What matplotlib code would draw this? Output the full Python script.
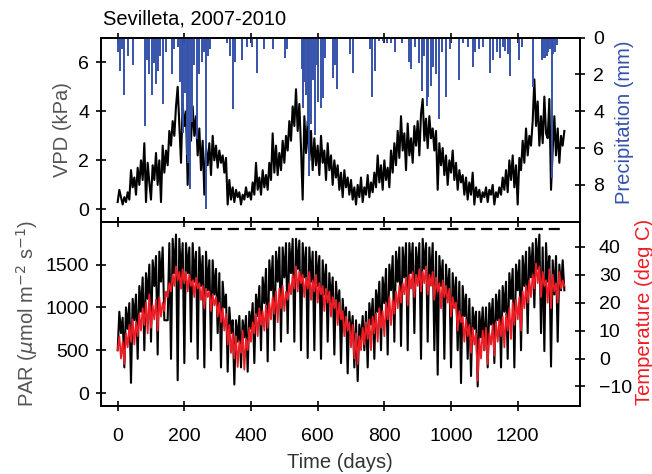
import numpy as np
import matplotlib
matplotlib.use("Agg")
import matplotlib.pyplot as plt

plt.rcParams['font.family'] = ['Liberation Sans', 'DejaVu Sans']

# day of record, every 5 days
days = np.arange(0, 1341, 5)

# VPD (kPa)
vpd = [0.3, 0.8, 0.5, 0.2, 0.5, 0.3, 0.7, 0.4, 1.6, 0.9,
       1.3, 0.6, 1.7, 1.0, 2.0, 1.2, 2.7, 0.3, 1.9, 1.1,
       0.4, 1.8, 1.2, 2.3, 1.0, 2.0, 0.3, 2.6, 1.5, 2.4,
       1.8, 3.2, 2.6, 3.6, 3.0, 4.2, 5.0, 3.5, 1.9, 4.3,
       3.4, 4.0, 1.0, 3.6, 2.8, 4.2, 3.0, 3.8, 2.2, 3.3,
       1.6, 2.8, 0.6, 2.5, 1.8, 2.7, 1.4, 3.0, 2.0, 2.6,
       1.7, 2.4, 1.9, 2.2, 1.5, 2.1, 0.2, 1.2, 0.4, 0.9,
       0.3, 0.8, 0.5, 0.7, 0.2, 0.6, 0.4, 0.9, 0.5, 0.7,
       0.4, 1.1, 0.6, 1.9, 0.8, 1.3, 0.6, 1.6, 0.9, 1.4,
       0.8, 1.9, 1.2, 3.1, 1.5, 2.6, 1.4, 2.3, 1.6, 2.8,
       1.9, 3.0, 2.4, 3.6, 2.8, 4.2, 3.4, 4.9, 3.2, 4.3,
       2.5, 0.4, 3.8, 2.3, 3.6, 2.0, 3.2, 1.6, 2.9, 1.8,
       2.6, 1.4, 3.0, 1.9, 2.4, 1.2, 2.7, 1.6, 2.2, 1.0,
       2.0, 1.3, 1.8, 0.8, 1.5, 0.5, 1.6, 0.9, 1.3, 0.6,
       1.2, 0.4, 0.9, 0.2, 1.0, 0.5, 1.3, 0.3, 0.9, 0.6,
       1.4, 0.5, 1.1, 0.7, 1.5, 0.9, 2.2, 1.1, 1.8, 0.8,
       2.0, 1.2, 1.7, 0.9, 2.4, 1.5, 2.7, 1.8, 3.2, 2.1,
       3.8, 2.4, 3.1, 1.6, 3.5, 2.2, 2.9, 1.9, 3.4, 2.6,
       3.6, 2.2, 3.9, 4.5, 2.8, 3.7, 2.5, 3.8, 2.9, 3.3,
       2.4, 3.2, 0.8, 2.7, 1.8, 2.5, 1.4, 2.2, 1.0, 2.0,
       1.5, 2.4, 1.2, 1.9, 0.8, 1.6, 1.1, 1.4, 0.6, 1.3,
       0.4, 1.1, 0.6, 1.5, 0.2, 0.9, 0.5, 0.8, 0.3, 0.7,
       0.5, 0.9, 0.3, 0.8, 0.6, 1.0, 0.2, 0.7, 0.5, 0.9,
       0.6, 1.3, 0.8, 1.6, 0.7, 2.0, 1.2, 2.2, 0.9, 1.8,
       0.2, 2.1, 1.6, 2.8, 1.9, 3.3, 2.2, 3.0, 2.6, 3.6,
       5.3, 3.4, 4.4, 2.6, 3.8, 2.7, 4.6, 3.1, 2.9, 4.5,
       0.8, 2.4, 3.8, 2.2, 3.3, 1.9, 3.0, 2.6, 3.2]

# PAR (umol m-2 s-1), bottom panel black
par = [500, 950, 700, 880, 300, 1000, 750, 1050, 120, 1100,
       850, 1150, 400, 1250, 950, 1350, 500, 1400, 1100, 1500,
       600, 1550, 1250, 1600, 450, 1650, 1300, 1700, 850, 850,
       850, 1750, 400, 1800, 1400, 1850, 150, 1800, 1350, 1750,
       350, 1750, 1400, 1700, 600, 1750, 1300, 1650, 400, 1700,
       1250, 1600, 300, 1650, 1200, 1550, 500, 1550, 1150, 1450,
       700, 1400, 300, 1300, 1000, 1150, 250, 1000, 700, 850,
       100, 850, 600, 900, 300, 850, 650, 900, 250, 950,
       750, 1050, 350, 1150, 900, 1250, 500, 1350, 1050, 1450,
       370, 1550, 1200, 1600, 500, 1650, 1300, 1700, 600, 1700,
       1350, 1750, 700, 1750, 1400, 1800, 600, 1800, 1450, 1780,
       500, 1750, 1350, 1700, 410, 1700, 1300, 1650, 500, 1650,
       1250, 1600, 400, 1550, 1150, 1500, 600, 1400, 1050, 1350,
       450, 1300, 950, 1200, 350, 1100, 800, 1000, 230, 950,
       650, 900, 300, 850, 140, 800, 600, 900, 500, 950,
       300, 1050, 800, 1100, 400, 1200, 950, 1300, 500, 1350,
       1050, 1450, 450, 1500, 1200, 1600, 600, 1650, 1300, 1700,
       550, 1700, 1350, 1750, 500, 1750, 1400, 1750, 700, 1700,
       1350, 1750, 400, 1800, 1450, 1750, 600, 1700, 1300, 1750,
       500, 1650, 215, 1600, 1250, 1550, 400, 1500, 1100, 1450,
       300, 1400, 1000, 1350, 500, 1300, 117, 1250, 900, 1150,
       400, 1100, 200, 1000, 750, 950, 78, 950, 650, 1000,
       500, 1000, 300, 1050, 800, 1100, 350, 1150, 850, 1200,
       300, 1250, 950, 1300, 400, 1400, 1100, 1450, 300, 1500,
       1200, 1550, 500, 1600, 1250, 1650, 700, 1700, 1350, 1750,
       1000, 1800, 1450, 1850, 700, 1700, 490, 1750, 1300, 1600,
       310, 1550, 1150, 1600, 600, 1500, 1200, 1550, 1200]

# air temperature (deg C), bottom panel red
temp = [3, 8, 0, 6, -2, 9, 4, 12, 6, 14,
        5, 13, 8, 16, 10, 18, 12, 20, 9, 23,
        11, 19, 14, 21, 10, 22, 15, 20, 17, 24,
        22, 27, 24, 30, 26, 33, 28, 31, 25, 32,
        27, 31, 24, 30, 26, 28, 22, 29, 25, 27,
        21, 26, 18, 25, 22, 24, 17, 23, 19, 22,
        15, 20, 13, 18, 10, 16, 5, 12, 2, 9,
        0, 8, -3, 6, 2, 10, -4, 7, 3, 11,
        6, 13, 9, 16, 8, 18, 12, 17, 10, 19,
        11, 20, 14, 22, 16, 24, 13, 25, 18, 26,
        17, 24, 21, 27, 23, 30, 25, 33, 24, 31,
        27, 30, 22, 29, 25, 31, 21, 28, 24, 30,
        20, 27, 23, 26, 17, 25, 20, 24, 15, 22,
        18, 21, 12, 20, 14, 17, 8, 15, 10, 13,
        4, 12, 0, 9, -2, 8, 3, 11, 5, 13,
        7, 14, 3, 15, 9, 16, 6, 18, 11, 17,
        8, 20, 14, 22, 12, 21, 16, 24, 18, 26,
        20, 27, 23, 29, 19, 30, 25, 31, 22, 30,
        26, 32, 24, 31, 27, 33, 23, 30, 26, 31,
        21, 29, 24, 27, 18, 28, 22, 26, 20, 25,
        15, 22, 18, 20, 10, 17, 13, 15, 6, 14,
        8, 12, 2, 11, 5, 9, -8, 7, 0, 10,
        3, 11, -2, 9, 5, 12, 1, 13, 6, 14,
        8, 15, 4, 16, 10, 18, 7, 20, 12, 21,
        14, 22, 10, 24, 18, 26, 20, 28, 22, 30,
        25, 34, 27, 33, 22, 31, 26, 28, 20, 32,
        18, 30, 24, 27, 20, 31, 25, 28, 26]

# rain events: day and amount (mm)
rain_day = [2, 7, 12, 20, 30, 45, 82, 88, 95, 102, 109, 115, 122, 128, 137, 145,
            162, 168, 180, 187, 192, 197, 202, 207, 212, 217, 222, 229, 237, 245,
            252, 258, 265, 272, 278, 327, 337, 345, 352, 372, 387, 402, 417, 439,
            467, 502, 507, 552, 556, 560, 565, 570, 575, 580, 587, 592, 598, 602,
            610, 615, 622, 645, 652, 659, 697, 707, 757, 762, 772, 785, 797, 807,
            819, 832, 852, 875, 880, 892, 905, 912, 920, 927, 932, 940, 947, 955,
            965, 972, 985, 997, 1025, 1035, 1052, 1065, 1072, 1085, 1095, 1117,
            1127, 1137, 1147, 1155, 1162, 1170, 1177, 1205, 1212, 1245, 1272, 1277,
            1282, 1287, 1292, 1297, 1302, 1307, 1312, 1319]
rain_mm = [0.8, 1.8, 0.6, 3.1, 1.0, 1.5, 4.8, 1.2, 2.0, 3.1, 1.4, 2.5, 1.8, 1.0, 3.6, 0.8,
           2.0, 0.6, 0.5, 2.4, 4.2, 5.2, 3.0, 6.4, 6.8, 8.2, 4.6, 1.5, 5.5, 2.0,
           1.3, 0.8, 9.3, 1.0, 0.6, 0.3, 1.0, 3.9, 1.3, 1.2, 0.5, 0.5, 1.9, 0.6,
           0.6, 1.1, 0.6, 1.7, 3.8, 2.4, 3.1, 4.8, 7.5, 4.7, 2.3, 5.3, 1.5, 3.5,
           3.8, 3.3, 1.1, 2.2, 1.5, 2.8, 0.9, 1.9, 0.6, 3.2, 1.8, 0.2, 0.2, 0.3,
           0.3, 0.8, 0.3, 1.3, 1.7, 0.5, 1.4, 2.9, 1.0, 3.7, 3.2, 2.6, 1.6, 2.0,
           4.4, 0.8, 3.2, 0.6, 2.3, 0.3, 0.5, 1.6, 0.8, 0.6, 0.5, 1.9,
           1.2, 0.8, 1.1, 0.5, 0.7, 0.9, 2.1, 1.2, 0.5, 2.7, 1.2, 1.1,
           1.1, 1.0, 0.8, 0.6, 7.6, 0.9, 0.8, 0.4]

# dashed bar above the PAR series
dash_start, dash_end, dash_level = 230, 1330, 1910

grey = '#555555'
blue = '#3552ab'
red = '#ee1c24'
fs_tick = 14
fs_lab = 14.5

fig = plt.figure(figsize=(6.52, 4.74), dpi=100)
ax1 = fig.add_axes([0.1549, 0.5323, 0.7347, 0.3882])
ax2 = fig.add_axes([0.1549, 0.1435, 0.7347, 0.3888])

# top panel: VPD + precipitation
ax1.plot(days, vpd, color='black', lw=1.5)
ax1.set_xlim(-50, 1387)
ax1.set_ylim(-0.5, 7)
ax1.set_yticks([0, 2, 4, 6])
ax1.set_xticks([0, 200, 400, 600, 800, 1000, 1200])
ax1.set_xticklabels([])

ax1r = ax1.twinx()
ax1r.vlines(rain_day, 0, rain_mm, color=blue, lw=1.4)
ax1r.set_ylim(10, 0)
ax1r.set_yticks([0, 2, 4, 6, 8])

# bottom panel: PAR + temperature
ax2.plot(days, par, color='black', lw=1.5)
ax2.hlines(dash_level, dash_start, dash_end, color='black', lw=1.6,
           linestyle=(0, (5, 2.6)))
ax2.set_xlim(-50, 1387)
ax2.set_ylim(-150, 2000)
ax2.set_yticks([0, 500, 1000, 1500])
ax2.set_xticks([0, 200, 400, 600, 800, 1000, 1200])

ax2r = ax2.twinx()
ax2r.plot(days, temp, color=red, lw=1.3)
ax2r.set_ylim(-17, 49)
ax2r.set_yticks([-10, 0, 10, 20, 30, 40])

for a in [ax1, ax2]:
    a.tick_params(axis='x', direction='inout', length=7, width=1.2,
                  top=True, labelsize=fs_tick, pad=12, colors='black')
    a.tick_params(axis='y', direction='inout', length=7, width=1.2,
                  labelsize=fs_tick, pad=5)
for a in [ax1r, ax2r]:
    a.tick_params(axis='y', direction='inout', length=7, width=1.2,
                  labelsize=fs_tick, pad=6)
ax2r.tick_params(axis='y', pad=10)
for a in [ax1, ax2, ax1r, ax2r]:
    for s in a.spines.values():
        s.set_linewidth(1.3)

fig.text(0.158, 0.94, 'Sevilleta, 2007-2010', fontsize=fs_lab, ha='left', va='bottom')
fig.text(62 / 652, 1 - 130 / 474, 'VPD (kPa)', rotation=90, fontsize=fs_lab,
         color=grey, ha='center', va='center')
fig.text(27 / 652, 1 - 313 / 474, r'PAR ($\mu$mol m$^{-2}$ s$^{-1}$)', rotation=90,
         fontsize=fs_lab, color=grey, ha='center', va='center')
fig.text(625 / 652, 1 - 122 / 474, 'Precipitation (mm)', rotation=90, fontsize=fs_lab,
         color=blue, ha='center', va='center')
fig.text(644 / 652, 1 - 312 / 474, 'Temperature (deg C)', rotation=90, fontsize=fs_lab,
         color=red, ha='center', va='center')
fig.text(340 / 652, 1 - 463 / 474, 'Time (days)', fontsize=fs_lab, color='#333333',
         ha='center', va='center')

fig.savefig('out.png', dpi=100)
